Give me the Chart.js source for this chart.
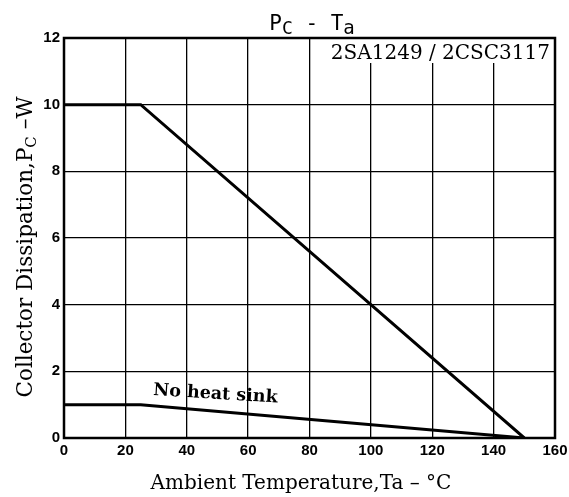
<!DOCTYPE html>
<html>
<head>
  <meta charset="UTF-8">
  <script src="https://cdn.jsdelivr.net/npm/chart.js"></script>
  <title>Pc - Ta</title>
  <style>
    html, body { margin: 0; padding: 0; background: #fff; }
    #caixa { width: 569px; height: 497px; }
  </style>
</head>
<body>
  <div id="caixa"><canvas id="grafico"></canvas></div>

<script>
  // valores (Ta em °C, Pc em W)
  var temperaturas = [0, 25, 150];
  var pcComDissipador = [10, 10, 0];
  var pcSemDissipador = [1, 1, 0];
  var ticksX = [0, 20, 40, 60, 80, 100, 120, 140, 160];
  var ticksY = [0, 2, 4, 6, 8, 10, 12];
  var nomeModelo = "2SA1249 / 2CSC3117";
  var nomeSemDissipador = "No heat sink";

  function pontos(xs, ys) {
    var lista = [];
    for (var i = 0; i < xs.length; i++) {
      lista.push({ x: xs[i], y: ys[i] });
    }
    return lista;
  }

  // escreve texto com pedaços em subscrito
  function escrever(ctx, partes, x, y, alinhar) {
    var total = 0;
    for (var i = 0; i < partes.length; i++) {
      ctx.font = partes[i].font;
      total += ctx.measureText(partes[i].t).width;
    }
    var px = x;
    if (alinhar == "center") px = x - total / 2;
    if (alinhar == "right") px = x - total;
    ctx.textAlign = "left";
    ctx.textBaseline = "alphabetic";
    for (var j = 0; j < partes.length; j++) {
      ctx.font = partes[j].font;
      ctx.fillText(partes[j].t, px, y + (partes[j].dy || 0));
      px += ctx.measureText(partes[j].t).width;
    }
  }

  var textos = {
    id: "textos",
    beforeDatasetsDraw: function (chart) {
      var ctx = chart.ctx;
      var area = chart.chartArea;
      ctx.save();
      // caixa branca do modelo por cima da grade
      ctx.fillStyle = "#fff";
      ctx.fillRect(331, area.top, area.right - 331, 25);
      ctx.fillStyle = "#000";
      ctx.font = "20px 'DejaVu Serif'";
      ctx.textAlign = "right";
      ctx.textBaseline = "alphabetic";
      ctx.fillText(nomeModelo, area.right - 5, area.top + 21);
      ctx.restore();
    },
    afterDraw: function (chart) {
      var ctx = chart.ctx;
      var area = chart.chartArea;
      var sx = chart.scales.x;
      var sy = chart.scales.y;
      ctx.save();
      ctx.fillStyle = "#000";

      // moldura
      ctx.strokeStyle = "#000";
      ctx.lineWidth = 2.5;
      ctx.strokeRect(area.left, area.top, area.right - area.left, area.bottom - area.top);

      // titulo
      var mono = "'DejaVu Sans Mono'";
      escrever(ctx, [
        { t: "P", font: "21px " + mono },
        { t: "C", font: "18px " + mono, dy: 4 },
        { t: " - ", font: "21px " + mono },
        { t: "T", font: "21px " + mono },
        { t: "a", font: "19px " + mono, dy: 4 }
      ], 312, 30, "center");

      // titulo eixo x
      escrever(ctx, [
        { t: "Ambient Temperature,Ta \u2013 \u00b0C", font: "20px 'DejaVu Serif'" }
      ], 301, 489, "center");

      // titulo eixo y
      ctx.save();
      ctx.translate(32, 247);
      ctx.rotate(-Math.PI / 2);
      escrever(ctx, [
        { t: "Collector Dissipation,P", font: "21.5px 'DejaVu Serif'" },
        { t: "C", font: "15px 'DejaVu Serif'", dy: 4 },
        { t: " \u2013W", font: "21.5px 'DejaVu Serif'" }
      ], 0, 0, "center");
      ctx.restore();

      // rotulo da curva sem dissipador
      ctx.save();
      ctx.translate(sx.getPixelForValue(29), sy.getPixelForValue(1.29));
      ctx.rotate(3.5 * Math.PI / 180);
      ctx.font = "bold 17.5px 'DejaVu Serif'";
      ctx.textAlign = "left";
      ctx.textBaseline = "alphabetic";
      ctx.fillText(nomeSemDissipador, 0, 0);
      ctx.restore();

      ctx.restore();
    }
  };

  var grade = {
    color: "#000",
    lineWidth: 1.3,
    drawTicks: false
  };

  var config = {
    type: "line",
    data: {
      datasets: [
        {
          label: "Infinite heat sink",
          data: pontos(temperaturas, pcComDissipador),
          borderColor: "#000",
          borderWidth: 3,
          pointRadius: 0,
          tension: 0
        },
        {
          label: nomeSemDissipador,
          data: pontos(temperaturas, pcSemDissipador),
          borderColor: "#000",
          borderWidth: 3,
          pointRadius: 0,
          tension: 0
        }
      ]
    },
    options: {
      responsive: true,
      maintainAspectRatio: false,
      animation: false,
      devicePixelRatio: 1,
      layout: { padding: { top: 38, right: 14, bottom: 0, left: 0 } },
      plugins: {
        legend: { display: false },
        tooltip: { enabled: false }
      },
      scales: {
        x: {
          type: "linear",
          min: 0,
          max: 160,
          afterBuildTicks: function (scale) {
            scale.ticks = ticksX.map(function (v) { return { value: v }; });
          },
          afterFit: function (scale) {
            scale.height = 59;
            scale.paddingLeft = 0;
            scale.paddingRight = 0;
          },
          grid: grade,
          border: { display: false },
          ticks: {
            color: "#000",
            padding: 4,
            maxRotation: 0,
            font: { family: "'Liberation Sans'", size: 15, weight: "bold" }
          }
        },
        y: {
          min: 0,
          max: 12,
          afterBuildTicks: function (scale) {
            scale.ticks = ticksY.map(function (v) { return { value: v }; });
          },
          afterFit: function (scale) {
            scale.width = 64;
            scale.paddingTop = 0;
            scale.paddingBottom = 0;
          },
          grid: grade,
          border: { display: false },
          ticks: {
            color: "#000",
            padding: 4,
            font: { family: "'Liberation Sans'", size: 15, weight: "bold" }
          }
        }
      }
    },
    plugins: [textos]
  };

  var meuGrafico = new Chart(document.getElementById("grafico"), config);
</script>
</body>
</html>
